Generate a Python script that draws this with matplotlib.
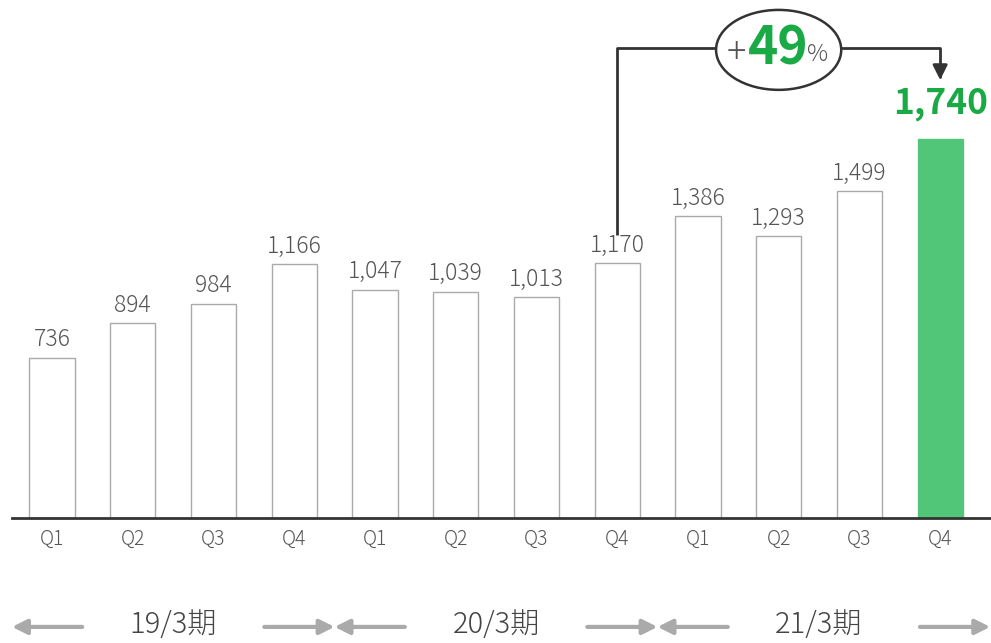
import matplotlib
matplotlib.use('Agg')
import matplotlib.pyplot as plt
from matplotlib.patches import Ellipse
import numpy as np

plt.rcParams['font.family'] = ['Noto Sans CJK JP', 'DejaVu Sans']

quarters = ['Q1', 'Q2', 'Q3', 'Q4'] * 3
values = [736, 894, 984, 1166, 1047, 1039, 1013, 1170, 1386, 1293, 1499, 1740]
periods = ['19/3期', '20/3期', '21/3期']
growth_pct = 49

green = '#52c678'
text_green = '#1aaa45'
grey_text = '#555555'
arrow_grey = '#aaaaaa'

fig = plt.figure(figsize=(9.91, 6.43), dpi=100)
ax = fig.add_axes([12 / 991, 125 / 643, 1 - 12 / 991, 518 / 643])
ax.set_xlim(-0.495, 11.63)
ax.set_ylim(0, 2378)

x = np.arange(len(values))
colors = ['white'] * (len(values) - 1) + [green]
edges = ['#aaaaaa'] * (len(values) - 1) + [green]
ax.bar(x, values, width=0.56, color=colors, edgecolor=edges, linewidth=1.0, zorder=2)

# value labels
for i, v in enumerate(values[:-1]):
    ax.annotate(f'{v:,}', (i, v), xytext=(0, 4), textcoords='offset points',
                ha='center', va='bottom', fontsize=16.5, color=grey_text, fontweight='light')
ax.annotate(f'{values[-1]:,}', (x[-1], values[-1]), xytext=(0, 13), textcoords='offset points',
            ha='center', va='bottom', fontsize=25.5, fontweight='bold', color=text_green)

# baseline and quarter labels
for s in ['top', 'right', 'left']:
    ax.spines[s].set_visible(False)
ax.spines['bottom'].set_color('#333333')
ax.spines['bottom'].set_linewidth(2)
ax.set_yticks([])
ax.set_xticks(x)
ax.set_xticklabels(quarters, fontsize=14, color=grey_text, fontweight='light')
ax.tick_params(axis='x', length=0, pad=8)

# growth bracket from 20/3 Q4 to 21/3 Q4
top_y = 2158
ex, ey = 9.0, 2149
ax.plot([7, 7, ex - 0.77], [values[7] + 130, top_y, top_y], color='#333333', lw=2,
        clip_on=False, solid_capstyle='butt')
ax.annotate('', xy=(11, 2011), xytext=(ex + 0.77, top_y),
            arrowprops=dict(arrowstyle='-|>', color='#333333', lw=2,
                            connectionstyle='angle,angleA=0,angleB=90,rad=0',
                            shrinkA=0, shrinkB=0, mutation_scale=22),
            annotation_clip=False)
ax.add_patch(Ellipse((ex, ey), 1.55, 367, facecolor='white', edgecolor='#333333',
                     lw=1.8, clip_on=False, zorder=3))
ax.text(ex - 0.52, ey - 12, '+', fontsize=26, color=grey_text, ha='center', va='center',
        fontweight='light', zorder=4)
ax.text(ex - 0.01, ey + 4, f'{growth_pct}', fontsize=37, fontweight='bold', color=text_green,
        ha='center', va='center', zorder=4)
ax.text(ex + 0.48, ey - 23, '%', fontsize=17, color=grey_text, ha='center', va='center',
        fontweight='light', zorder=4)

# fiscal period labels with arrows
arr_y = -500
bounds = [-0.495, 3.5, 7.5, 11.62]
alen = 0.87
arrow_kw = dict(arrowstyle='-|>', color=arrow_grey, lw=3, mutation_scale=22, shrinkA=0, shrinkB=0)
for k, name in enumerate(periods):
    lo, hi = bounds[k], bounds[k + 1]
    ax.annotate('', xy=(lo, arr_y), xytext=(lo + alen, arr_y), arrowprops=arrow_kw,
                annotation_clip=False)
    ax.annotate('', xy=(hi, arr_y), xytext=(hi - alen, arr_y), arrowprops=arrow_kw,
                annotation_clip=False)
    ax.text(4 * k + 1.5, arr_y + 10, name, fontsize=21, color='#444444',
            ha='center', va='center', fontweight='light')

fig.savefig('out.png', dpi=100, facecolor='white')
